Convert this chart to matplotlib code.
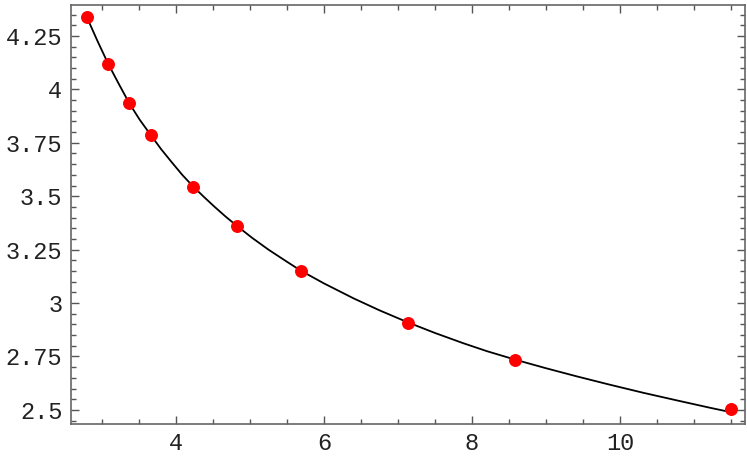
from matplotlib import pyplot as plt
from matplotlib.ticker import MultipleLocator, FuncFormatter

# puntos medidos (rojos)
pts_x = [2.793, 3.085, 3.369, 3.658, 4.234, 4.820, 5.685, 7.131, 8.585, 11.496]
pts_y = [4.340, 4.119, 3.935, 3.787, 3.545, 3.362, 3.152, 2.908, 2.735, 2.506]

# curva de ajuste
curve_x = [2.793, 2.94, 3.085, 3.23, 3.369, 3.51, 3.658, 3.80, 3.95, 4.09, 4.234,
           4.38, 4.52, 4.67, 4.820, 5.03, 5.25, 5.47, 5.685, 6.0, 6.4, 6.75,
           7.131, 7.5, 7.883, 8.2, 8.585, 9.0, 9.415, 9.85, 10.315, 10.8,
           11.216, 11.42]
curve_y = [4.340, 4.226, 4.119, 4.024, 3.935, 3.858, 3.787, 3.720, 3.656, 3.598, 3.545,
           3.496, 3.451, 3.405, 3.362, 3.305, 3.250, 3.200, 3.152, 3.092, 3.022, 2.966,
           2.910, 2.860, 2.812, 2.775, 2.735, 2.695, 2.657, 2.619, 2.580, 2.542,
           2.510, 2.495]

plt.rcParams['font.family'] = ['Liberation Mono', 'DejaVu Sans Mono']

fig = plt.figure(figsize=(7.47, 4.62), dpi=100)
ax = fig.add_axes([0.0946, 0.0823, 0.9027, 0.9069])

ax.plot(curve_x, curve_y, color='black', lw=1.3, zorder=2)
ax.plot(pts_x, pts_y, 'o', color='#ff0000', markersize=8.3, zorder=3)

ax.set_xlim(2.577, 11.69)
ax.set_ylim(2.434, 4.395)

ax.xaxis.set_major_locator(MultipleLocator(2))
ax.xaxis.set_minor_locator(MultipleLocator(0.5))
ax.yaxis.set_major_locator(MultipleLocator(0.25))
ax.yaxis.set_minor_locator(MultipleLocator(0.05))
fmt = FuncFormatter(lambda v, p: '%g' % round(v, 2))
ax.xaxis.set_major_formatter(fmt)
ax.yaxis.set_major_formatter(fmt)

ax.tick_params(which='both', direction='in', top=True, right=True, color='#555555',
               width=1, labelsize=17, labelcolor='#222222')
ax.tick_params(which='major', length=6, pad=6)
ax.tick_params(which='minor', length=3.5)
for s in ax.spines.values():
    s.set_color('#666666')
    s.set_linewidth(1.2)

fig.savefig('out.png', dpi=100)
